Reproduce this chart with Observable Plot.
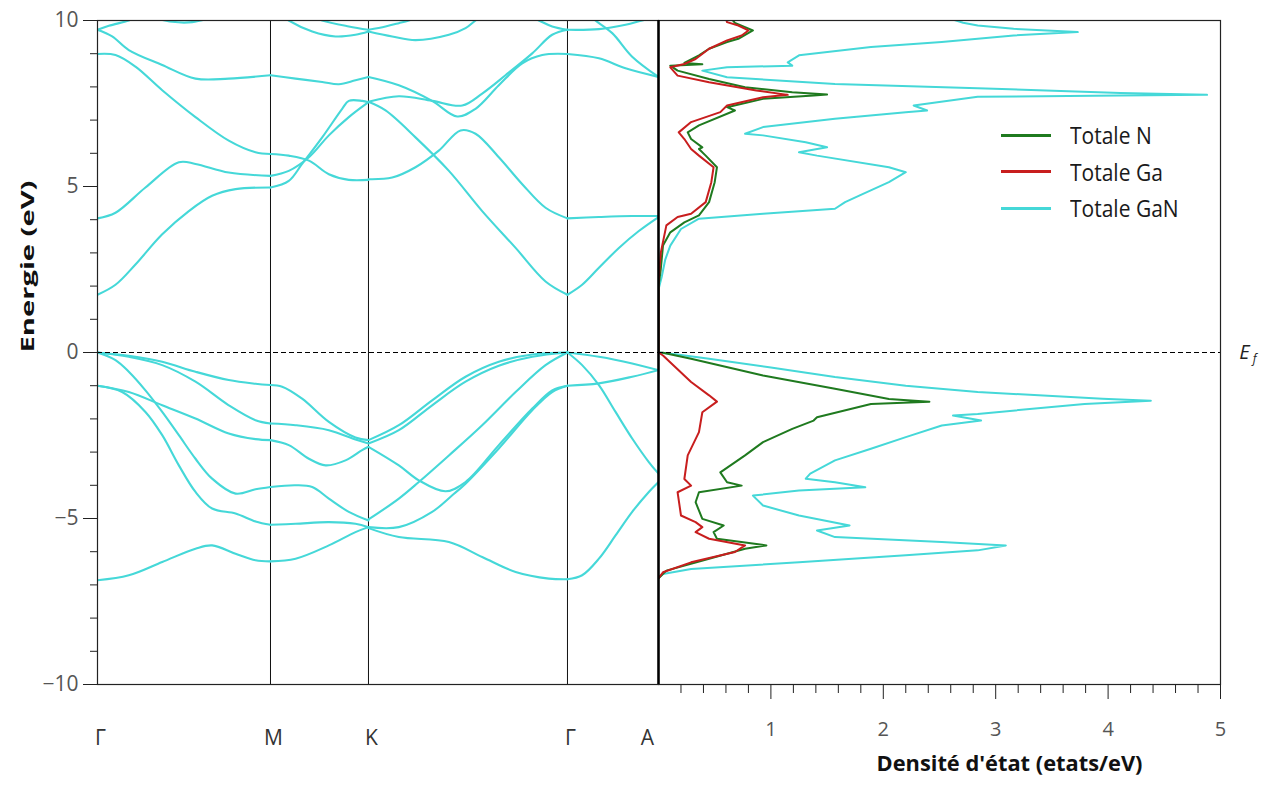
<!DOCTYPE html>
<html><head><meta charset="utf-8">
<script src="https://cdn.jsdelivr.net/npm/d3@7"></script>
<script src="https://cdn.jsdelivr.net/npm/@observablehq/plot@0.6"></script>
<style>
body{margin:0;background:#fff;}
#wrap{position:relative;width:1279px;height:785px;background:#fff;}
#wrap > svg{position:absolute;left:0;top:0;}
.legend{position:absolute;left:1001px;top:117px;font:21px "Open Sans",sans-serif;color:#1a1a1a;}
.legend .row{display:flex;align-items:center;height:36.5px;}
.legend .sw{width:50px;height:3px;margin-right:19px;}
.legend .lab{display:inline-block;transform:scaleY(1.15);transform-origin:left center;}
</style></head><body><div id="wrap"></div>
<script>
// ---- k-path (high-symmetry points) ----
const kLabels = ["Γ", "M", "K", "Γ", "A"];
const kPos = [0, 1.144, 1.792, 3.108, 3.71];

// ---- band structure, one array per path segment, each band = [k, E] points ----
const bandsGM = [
  [[0,0],[0.207,-0.10],[0.428,-0.28],[0.648,-0.58],[0.868,-0.83],[1.045,-0.94],[1.144,-0.98]],
  [[0,0],[0.207,-0.13],[0.428,-0.38],[0.648,-0.88],[0.868,-1.59],[1.045,-2.04],[1.144,-2.14]],
  [[0,0],[0.119,-0.23],[0.207,-0.58],[0.317,-1.14],[0.428,-1.79],[0.538,-2.49],[0.648,-3.20],[0.758,-3.80],[0.913,-4.25],[1.045,-4.12],[1.144,-4.05]],
  [[0,-1.0],[0.207,-1.19],[0.428,-1.59],[0.648,-1.99],[0.868,-2.44],[1.045,-2.61],[1.144,-2.64]],
  [[0,-1.0],[0.163,-1.19],[0.317,-1.79],[0.428,-2.49],[0.538,-3.40],[0.648,-4.20],[0.758,-4.70],[0.913,-4.85],[1.045,-5.09],[1.144,-5.19]],
  [[0,-6.86],[0.207,-6.71],[0.428,-6.31],[0.648,-5.91],[0.758,-5.81],[0.913,-6.06],[1.045,-6.26],[1.144,-6.29]],
  [[0,1.74],[0.119,2.04],[0.251,2.65],[0.428,3.56],[0.604,4.26],[0.758,4.72],[0.913,4.92],[1.144,4.97]],
  [[0,4.04],[0.119,4.21],[0.317,4.97],[0.538,5.73],[0.648,5.68],[0.868,5.42],[1.144,5.32]],
  [[0,8.99],[0.119,8.96],[0.251,8.61],[0.428,7.90],[0.648,7.09],[0.868,6.38],[1.045,6.03],[1.144,5.98]],
  [[0,9.72],[0.097,9.52],[0.207,9.11],[0.428,8.66],[0.648,8.25],[0.868,8.25],[1.144,8.35]],
  [[0,9.72],[0.075,9.84],[0.207,10.0],[0.273,10.12]],
  [[0.317,10.15],[0.494,9.96],[0.626,9.95],[0.758,10.1]]
];
const bandsMK = [
  [[1.144,-0.98],[1.221,-1.03],[1.353,-1.39],[1.530,-2.09],[1.706,-2.56],[1.792,-2.64]],
  [[1.144,-2.14],[1.310,-2.19],[1.530,-2.34],[1.706,-2.62],[1.792,-2.74]],
  [[1.144,-2.64],[1.265,-2.79],[1.398,-3.20],[1.508,-3.40],[1.640,-3.25],[1.750,-2.94],[1.792,-2.84]],
  [[1.144,-4.05],[1.310,-4.00],[1.420,-4.05],[1.530,-4.40],[1.662,-4.80],[1.792,-5.06]],
  [[1.144,-5.19],[1.310,-5.16],[1.530,-5.11],[1.706,-5.16],[1.792,-5.26]],
  [[1.144,-6.29],[1.310,-6.21],[1.530,-5.81],[1.706,-5.41],[1.792,-5.26]],
  [[1.144,4.97],[1.265,5.17],[1.353,5.68],[1.486,6.48],[1.618,7.34],[1.662,7.58],[1.750,7.58],[1.792,7.54]],
  [[1.144,5.32],[1.265,5.47],[1.398,5.88],[1.530,6.54],[1.662,7.09],[1.792,7.54]],
  [[1.144,5.98],[1.265,5.93],[1.398,5.78],[1.530,5.37],[1.662,5.20],[1.792,5.20]],
  [[1.144,8.35],[1.310,8.25],[1.486,8.15],[1.596,8.08],[1.706,8.20],[1.792,8.30]],
  [[1.177,10.3],[1.265,10.0],[1.420,9.67],[1.574,9.52],[1.706,9.57],[1.792,9.67]],
  [[1.398,10.17],[1.486,10.0],[1.662,9.82],[1.792,9.72]]
];
const bandsKG = [
  [[1.792,-2.64],[1.993,-2.19],[2.213,-1.44],[2.434,-0.73],[2.654,-0.28],[2.875,-0.06],[3.108,0]],
  [[1.792,-2.74],[1.993,-2.34],[2.213,-1.59],[2.434,-0.88],[2.654,-0.40],[2.875,-0.13],[3.108,0]],
  [[1.792,-2.84],[1.993,-3.40],[2.125,-3.85],[2.302,-4.18],[2.434,-3.90],[2.654,-2.79],[2.875,-1.69],[3.007,-1.14],[3.108,-1.0]],
  [[1.792,-5.03],[1.993,-4.40],[2.125,-3.90],[2.324,-3.10],[2.544,-2.19],[2.765,-1.19],[2.963,-0.38],[3.108,0]],
  [[1.792,-5.26],[1.993,-5.26],[2.213,-4.80],[2.346,-4.30],[2.434,-3.95],[2.654,-2.89],[2.875,-1.74],[3.007,-1.19],[3.108,-1.0]],
  [[1.792,-5.29],[1.993,-5.56],[2.324,-5.71],[2.544,-6.16],[2.765,-6.61],[2.985,-6.81],[3.108,-6.83]],
  [[1.792,5.22],[1.949,5.27],[2.103,5.58],[2.257,6.08],[2.401,6.69],[2.500,6.59],[2.654,5.88],[2.809,5.07],[2.963,4.36],[3.108,4.04]],
  [[1.792,7.55],[1.905,7.29],[2.103,6.48],[2.324,5.47],[2.544,4.26],[2.765,3.15],[2.963,2.14],[3.108,1.74]],
  [[1.792,8.30],[1.993,8.05],[2.213,7.58],[2.379,7.11],[2.500,7.34],[2.654,8.05],[2.809,8.71],[2.941,8.96],[3.108,8.99]],
  [[1.792,7.55],[1.993,7.72],[2.213,7.58],[2.412,7.44],[2.544,7.80],[2.698,8.35],[2.875,9.01],[3.007,9.57],[3.108,9.72]],
  [[1.792,9.72],[1.905,9.82],[1.993,9.92],[2.059,10.0],[2.125,10.1]],
  [[1.792,9.67],[1.949,9.52],[2.103,9.41],[2.324,9.57],[2.434,9.77],[2.500,10.0],[2.544,10.12]],
  [[2.831,10.17],[2.919,10.0],[3.007,9.82],[3.108,9.72]]
];
const bandsGA = [
  [[3.108,0],[3.316,-0.13],[3.536,-0.33],[3.71,-0.53]],
  [[3.108,0],[3.205,-0.38],[3.316,-0.98],[3.426,-1.79],[3.536,-2.59],[3.646,-3.30],[3.71,-3.65]],
  [[3.108,-1.0],[3.316,-0.93],[3.536,-0.73],[3.71,-0.53]],
  [[3.108,-6.83],[3.205,-6.71],[3.316,-6.21],[3.426,-5.51],[3.536,-4.80],[3.646,-4.20],[3.71,-3.90]],
  [[3.108,1.74],[3.205,2.04],[3.316,2.55],[3.448,3.15],[3.580,3.66],[3.71,4.08]],
  [[3.108,4.04],[3.316,4.08],[3.536,4.11],[3.71,4.11]],
  [[3.108,8.99],[3.316,8.86],[3.492,8.56],[3.71,8.30]],
  [[3.249,10.17],[3.293,10.0],[3.404,9.62],[3.536,8.91],[3.71,8.30]],
  [[3.108,9.72],[3.316,9.74],[3.492,9.87],[3.602,10.0],[3.668,10.07]]
];

// ---- density of states, [E (eV), DOS (etats/eV)] ----
const dosGaN = [[-6.8,0],[-6.67,0.04],[-6.52,0.29],[-6.32,1.25],[-6.11,2.20],[-5.96,2.84],[-5.81,3.09],[-5.71,2.52],[-5.56,1.57],[-5.36,1.41],[-5.21,1.70],[-4.91,1.25],[-4.61,0.93],[-4.31,0.84],[-4.16,1.25],[-4.06,1.84],[-3.91,1.57],[-3.80,1.31],[-3.65,1.35],[-3.25,1.57],[-2.90,1.89],[-2.55,2.20],[-2.20,2.52],[-2.05,2.87],[-1.90,2.62],[-1.85,2.84],[-1.55,3.79],[-1.45,4.38],[-1.39,3.95],[-1.19,2.84],[-1.0,2.2],[-0.74,1.57],[-0.45,1.0],[-0.19,0.45],[-0.05,0.15],[0,0],[1.9,0],[2.3,0.03],[2.8,0.06],[3.22,0.105],[3.72,0.20],[4.03,0.36],[4.18,0.93],[4.33,1.57],[4.53,1.66],[4.78,1.82],[5.13,2.05],[5.43,2.20],[5.58,2.05],[5.93,1.41],[6.03,1.25],[6.18,1.50],[6.33,1.31],[6.54,0.93],[6.59,0.77],[6.79,0.93],[7.04,1.57],[7.24,2.20],[7.29,2.39],[7.44,2.27],[7.70,2.84],[7.74,4.11],[7.76,4.88],[7.82,4.11],[7.96,2.84],[8.09,1.57],[8.29,0.61],[8.49,0.39],[8.59,0.61],[8.64,1.19],[8.74,1.15],[8.95,1.25],[9.20,1.89],[9.35,2.52],[9.55,3.16],[9.65,3.73],[9.75,3.16],[9.85,2.84],[9.93,2.71],[10.05,2.6]];
const dosN = [[-6.8,0],[-6.57,0.07],[-6.21,0.45],[-5.91,0.77],[-5.81,0.96],[-5.61,0.52],[-5.41,0.49],[-5.21,0.58],[-5.01,0.39],[-4.51,0.33],[-4.21,0.36],[-4.01,0.74],[-3.91,0.61],[-3.61,0.55],[-3.10,0.77],[-2.70,0.93],[-2.30,1.19],[-2.05,1.38],[-1.95,1.41],[-1.55,1.89],[-1.48,2.41],[-1.40,2.05],[-1.09,1.57],[-0.69,0.93],[-0.19,0.29],[-0.01,0.04],[0,0],[2.0,0],[2.5,0.02],[3.22,0.04],[3.62,0.105],[3.92,0.23],[4.13,0.36],[4.53,0.45],[5.13,0.50],[5.58,0.52],[5.93,0.42],[6.13,0.36],[6.18,0.39],[6.43,0.29],[6.63,0.26],[6.84,0.36],[7.29,0.68],[7.39,0.61],[7.64,0.93],[7.74,1.38],[7.77,1.50],[7.84,1.19],[7.99,0.77],[8.24,0.45],[8.49,0.17],[8.64,0.105],[8.68,0.39],[8.72,0.23],[8.95,0.36],[9.15,0.45],[9.35,0.61],[9.45,0.71],[9.70,0.84],[9.80,0.77],[9.93,0.68],[10.05,0.65]];
const dosGa = [[-6.8,0],[-6.62,0.04],[-6.32,0.29],[-6.01,0.68],[-5.81,0.77],[-5.61,0.45],[-5.41,0.33],[-5.26,0.39],[-5.11,0.33],[-4.91,0.20],[-4.21,0.17],[-4.01,0.29],[-3.81,0.23],[-3.10,0.26],[-2.40,0.36],[-1.80,0.39],[-1.48,0.52],[-1.29,0.45],[-0.89,0.29],[-0.09,0.04],[0,0],[2.1,0],[3.0,0.02],[3.83,0.07],[4.08,0.17],[4.18,0.29],[4.53,0.42],[5.13,0.47],[5.58,0.49],[5.93,0.36],[6.13,0.29],[6.43,0.23],[6.63,0.18],[6.94,0.29],[7.24,0.55],[7.44,0.61],[7.69,0.93],[7.76,1.15],[7.89,0.87],[8.14,0.45],[8.34,0.17],[8.59,0.105],[8.69,0.23],[8.84,0.33],[9.15,0.45],[9.40,0.61],[9.55,0.74],[9.70,0.80],[9.85,0.71],[9.95,0.61],[10.05,0.6]];

const seriesNames = ["Totale N", "Totale Ga", "Totale GaN"];
const seriesColors = ["#1f7a1f", "#c81e1e", "#45d8d8"];
const yMajor = [-10, -5, 0, 5, 10];
const dosMajor = [1, 2, 3, 4, 5];

// ---- build tables ----
const bandRows = [];
[bandsGM, bandsMK, bandsKG, bandsGA].forEach((seg, s) => seg.forEach((band, b) =>
  band.forEach(([k, E]) => bandRows.push({id: s + "-" + b, k, E}))));
const toRows = arr => arr.map(([E, dos]) => ({E, dos}));
const yMinor = d3.range(-10, 11).filter(v => v % 5 !== 0);
const dosMinor = d3.range(1, 25).filter(i => i % 5 !== 0).map(i => i / 5);
const labelMap = new Map(kPos.map((k, i) => [k, kLabels[i]]));
const cyan = seriesColors[2];
const font = "'Open Sans', sans-serif";
const blank = () => "";

const left = Plot.plot({
  width: 660, height: 785,
  marginLeft: 97, marginRight: 2, marginTop: 20, marginBottom: 101,
  style: {background: "transparent", fontFamily: font, overflow: "visible"},
  x: {domain: [0, 3.71], axis: null},
  y: {domain: [-10, 10], axis: null},
  marks: [
    Plot.ruleX(kPos.slice(1, 4), {stroke: "#111", strokeWidth: 1}),
    Plot.line(bandRows, {x: "k", y: "E", z: "id", stroke: cyan, strokeWidth: 2.1, curve: "catmull-rom", clip: true}),
    Plot.ruleY([0], {stroke: "#000", strokeWidth: 1.2, strokeDasharray: "5,3"}),
    Plot.frame({stroke: "#222", strokeWidth: 1.2}),
    Plot.axisY(yMinor, {tickSize: 7, tickFormat: blank, label: null, stroke: "#222"}),
    Plot.axisY(yMajor, {tickSize: 14, tickPadding: 5, fontSize: 21, fill: "#555", stroke: "#222", label: null}),
    Plot.axisX(kPos.slice(0, 4), {tickSize: 0, tickPadding: 46, fontSize: 21, fill: "#333", tickFormat: d => labelMap.get(d), label: null, dx: 3}),
    Plot.axisX(kPos.slice(4), {tickSize: 0, tickPadding: 46, fontSize: 21, fill: "#333", tickFormat: d => labelMap.get(d), label: null, dx: -11}),
    Plot.text(["Energie (eV)"], {frameAnchor: "left", rotate: -90, dx: -69, fontWeight: "bold", fontSize: 18, fill: "#111"})
  ]
});

const right = Plot.plot({
  width: 1279, height: 785,
  marginLeft: 658, marginRight: 59, marginTop: 20, marginBottom: 101,
  style: {background: "transparent", fontFamily: font, overflow: "visible"},
  x: {domain: [0, 5], axis: null},
  y: {domain: [-10, 10], axis: null},
  marks: [
    Plot.line(toRows(dosGaN), {x: "dos", y: "E", stroke: seriesColors[2], strokeWidth: 2, clip: true}),
    Plot.line(toRows(dosN), {x: "dos", y: "E", stroke: seriesColors[0], strokeWidth: 2, clip: true}),
    Plot.line(toRows(dosGa), {x: "dos", y: "E", stroke: seriesColors[1], strokeWidth: 2, clip: true}),
    Plot.ruleY([0], {stroke: "#000", strokeWidth: 1.2, strokeDasharray: "5,3"}),
    Plot.frame({stroke: "#222", strokeWidth: 1.2}),
    Plot.ruleX([0], {stroke: "#000", strokeWidth: 2.5}),
    Plot.axisX(dosMinor, {tickSize: 9, tickFormat: blank, label: null, stroke: "#222"}),
    Plot.axisX(dosMajor, {tickSize: 15, tickPadding: 22, fontSize: 20, fill: "#555", stroke: "#222", label: null}),
    Plot.text(["Densité d'état (etats/eV)"], {frameAnchor: "bottom", dx: 70, dy: 86, fontWeight: "bold", fontSize: 22, fill: "#111"}),
    Plot.text(["E"], {x: 5, y: 0, dx: 24, fontStyle: "italic", fontSize: 20, fill: "#222"}),
    Plot.text(["f"], {x: 5, y: 0, dx: 34, dy: 7, fontStyle: "italic", fontSize: 12, fill: "#222"})
  ]
});

// stretch the axis titles to the reference's lengths
left.querySelectorAll("text").forEach(t => {
  if (t.textContent === "Energie (eV)") {
    t.setAttribute("textLength", 172);
    t.setAttribute("lengthAdjust", "spacingAndGlyphs");
  }
});
right.querySelectorAll("text").forEach(t => {
  if (t.textContent === "Densité d'état (etats/eV)") {
    t.setAttribute("textLength", 266);
    t.setAttribute("lengthAdjust", "spacingAndGlyphs");
  }
});

const wrap = document.getElementById("wrap");
wrap.appendChild(left);
wrap.appendChild(right);

const legend = document.createElement("div");
legend.className = "legend";
seriesNames.forEach((name, i) => {
  const row = document.createElement("div");
  row.className = "row";
  const sw = document.createElement("span");
  sw.className = "sw";
  sw.style.background = seriesColors[i];
  const t = document.createElement("span");
  t.className = "lab";
  t.textContent = name;
  row.appendChild(sw); row.appendChild(t);
  legend.appendChild(row);
});
wrap.appendChild(legend);
</script></body></html>
